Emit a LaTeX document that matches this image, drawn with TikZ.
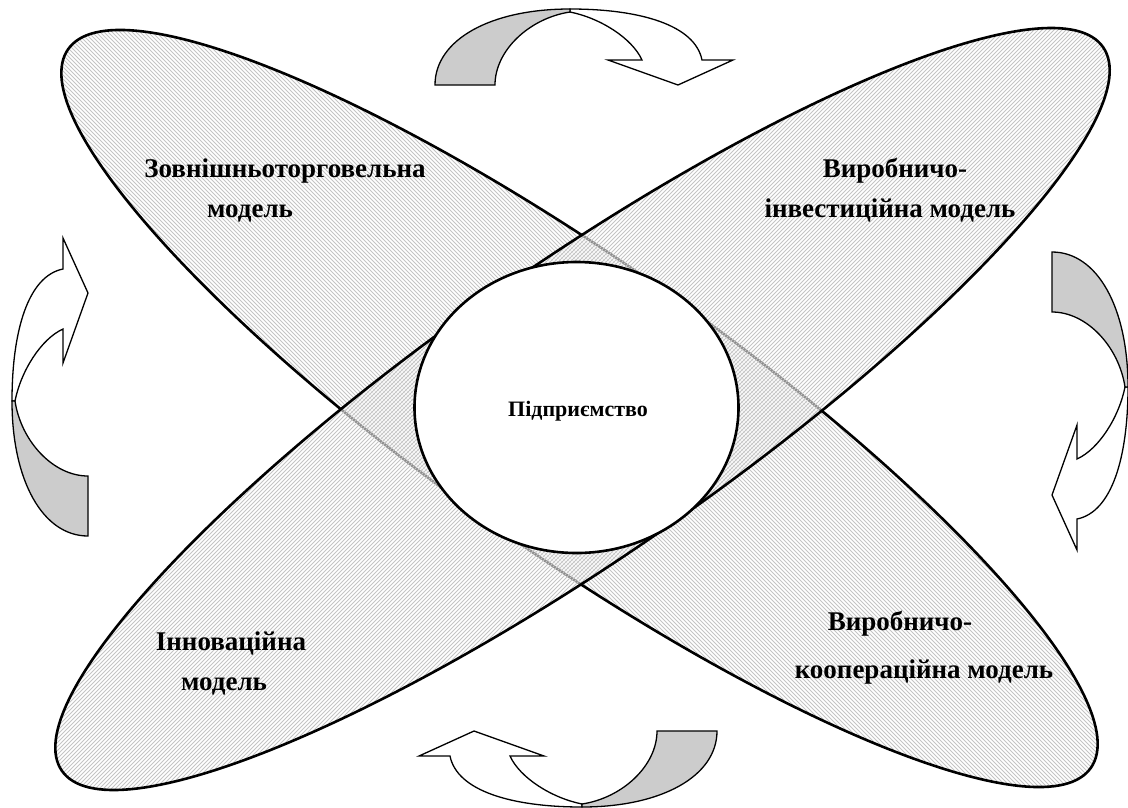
\documentclass[tikz,border=0pt]{standalone}
\usepackage{fontspec}
\setmainfont{Liberation Serif}
\usetikzlibrary{shapes.geometric}
\definecolor{arrgray}{RGB}{204,204,204}
\definecolor{hatchcol}{RGB}{196,196,196}
\newcommand{\myCurvedArrow}{%
  \filldraw[arrowline, fill=white] (570,9) .. controls (640,9) and (695,25) .. (702,60) -- (733,60) -- (678,85) -- (608,60) -- (642,60) .. controls (632,38) and (600,18) .. (570,12) -- cycle;
  \filldraw[arrowline, fill=arrgray] (435,85) .. controls (435,40) and (490,9) .. (570,9) -- (570,12) .. controls (530,18) and (495,50) .. (495,85) -- cycle;
}
\begin{document}
\begin{tikzpicture}[x=1pt,y=-1pt,
  outline/.style={draw=black, line width=2.6pt},
  hatchline/.style={draw=hatchcol, line width=1pt},
  lbl/.style={font=\fontsize{27}{32}\selectfont\bfseries, inner sep=0pt, anchor=base},
  arrowline/.style={draw=black, line width=1.3pt, line join=miter}]
\useasboundingbox (0,0) rectangle (1128,807);
% ellipse A (top-left to bottom-right)
\begin{scope}
  \clip[shift={(579.5,408.5)}, rotate=-35.1] (0,0) ellipse [x radius=625pt, y radius=145pt];
  \foreach \k in {-832,-828,...,1132} \draw[hatchline] (\k,0) -- ++(830,830);
\end{scope}
\draw[outline, shift={(579.5,408.5)}, rotate=-35.1] (0,0) ellipse [x radius=625pt, y radius=145pt];
% ellipse B (bottom-left to top-right)
\fill[white, opacity=0.55, shift={(582.5,409)}, rotate=34.8] (0,0) ellipse [x radius=634pt, y radius=145pt];
\begin{scope}
  \clip[shift={(582.5,409)}, rotate=34.8] (0,0) ellipse [x radius=634pt, y radius=145pt];
  \foreach \k in {0,4,...,1964} \draw[hatchline] (\k,0) -- ++(-830,830);
\end{scope}
\draw[outline, shift={(582.5,409)}, rotate=34.8] (0,0) ellipse [x radius=634pt, y radius=145pt];
% centre
\node[ellipse, draw=black, line width=2.6pt, fill=white, minimum width=324pt, minimum height=291pt, inner sep=0pt] (firm) at (576.5,407.5) {};
\node[lbl, font=\fontsize{22}{26}\selectfont\bfseries] (firmlbl) at (578,416) {Підприємство};
% arrows
\myCurvedArrow
\begin{scope}[xshift=1152pt, yshift=-816pt, rotate=180] \myCurvedArrow \end{scope}
\begin{scope}[xshift=1137pt, yshift=183pt, rotate=-90] \myCurvedArrow \end{scope}
\begin{scope}[xshift=3pt, yshift=-971pt, rotate=90] \myCurvedArrow \end{scope}
% labels
\node[lbl] (zt1) at (285,177) {Зовнішньоторговельна};
\node[lbl] (zt2) at (250,217) {модель};
\node[lbl] (vi1) at (895,177) {Виробничо-};
\node[lbl] (vi2) at (890,217) {інвестиційна модель};
\node[lbl] (in1) at (231,650) {Інноваційна};
\node[lbl] (in2) at (224,690) {модель};
\node[lbl] (vk1) at (900,630) {Виробничо-};
\node[lbl] (vk2) at (924,678) {коопераційна модель};
\end{tikzpicture}
\end{document}
